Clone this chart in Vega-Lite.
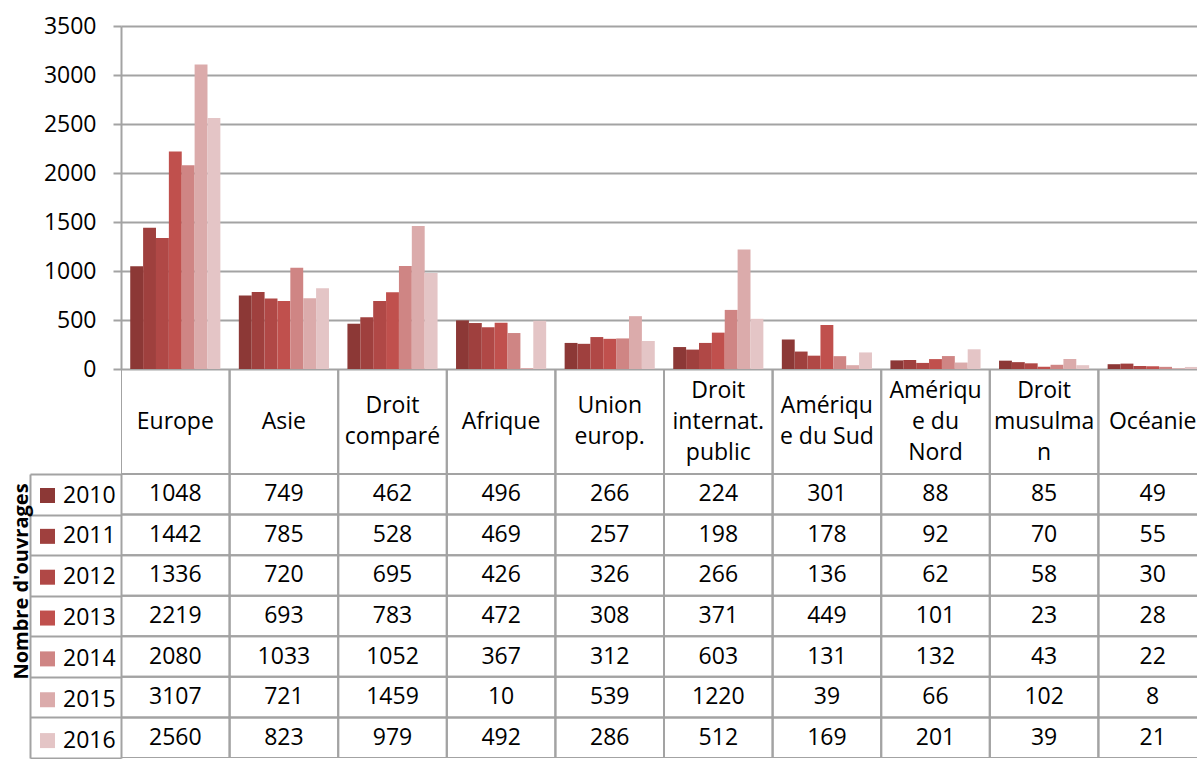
{
  "$schema": "https://vega.github.io/schema/vega-lite/v6.json",
  "bounds": "flush",
  "spacing": 0,
  "padding": {"left": 11, "top": 15, "right": 0, "bottom": 0},
  "background": "white",
  "config": {
    "view": {"stroke": null},
    "font": "Open Sans",
    "axis": {"labelFont": "Open Sans", "titleFont": "Open Sans", "labelColor": "black", "titleColor": "black"},
    "legend": {"labelFont": "Open Sans"}
  },
  "datasets": {
    "cats": [
      {"cat": "Europe", "label": "Europe"},
      {"cat": "Asie", "label": "Asie"},
      {"cat": "Droit comparé", "label": "Droit\ncomparé"},
      {"cat": "Afrique", "label": "Afrique"},
      {"cat": "Union europ.", "label": "Union\neurop."},
      {"cat": "Droit internat. public", "label": "Droit\ninternat.\npublic"},
      {"cat": "Amérique du Sud", "label": "Amériqu\ne du Sud"},
      {"cat": "Amérique du Nord", "label": "Amériqu\ne du\nNord"},
      {"cat": "Droit musulman", "label": "Droit\nmusulma\nn"},
      {"cat": "Océanie", "label": "Océanie"}
    ],
    "vals": [
      {"cat": "Europe", "year": "2010", "value": 1048},
      {"cat": "Europe", "year": "2011", "value": 1442},
      {"cat": "Europe", "year": "2012", "value": 1336},
      {"cat": "Europe", "year": "2013", "value": 2219},
      {"cat": "Europe", "year": "2014", "value": 2080},
      {"cat": "Europe", "year": "2015", "value": 3107},
      {"cat": "Europe", "year": "2016", "value": 2560},
      {"cat": "Asie", "year": "2010", "value": 749},
      {"cat": "Asie", "year": "2011", "value": 785},
      {"cat": "Asie", "year": "2012", "value": 720},
      {"cat": "Asie", "year": "2013", "value": 693},
      {"cat": "Asie", "year": "2014", "value": 1033},
      {"cat": "Asie", "year": "2015", "value": 721},
      {"cat": "Asie", "year": "2016", "value": 823},
      {"cat": "Droit comparé", "year": "2010", "value": 462},
      {"cat": "Droit comparé", "year": "2011", "value": 528},
      {"cat": "Droit comparé", "year": "2012", "value": 695},
      {"cat": "Droit comparé", "year": "2013", "value": 783},
      {"cat": "Droit comparé", "year": "2014", "value": 1052},
      {"cat": "Droit comparé", "year": "2015", "value": 1459},
      {"cat": "Droit comparé", "year": "2016", "value": 979},
      {"cat": "Afrique", "year": "2010", "value": 496},
      {"cat": "Afrique", "year": "2011", "value": 469},
      {"cat": "Afrique", "year": "2012", "value": 426},
      {"cat": "Afrique", "year": "2013", "value": 472},
      {"cat": "Afrique", "year": "2014", "value": 367},
      {"cat": "Afrique", "year": "2015", "value": 10},
      {"cat": "Afrique", "year": "2016", "value": 492},
      {"cat": "Union europ.", "year": "2010", "value": 266},
      {"cat": "Union europ.", "year": "2011", "value": 257},
      {"cat": "Union europ.", "year": "2012", "value": 326},
      {"cat": "Union europ.", "year": "2013", "value": 308},
      {"cat": "Union europ.", "year": "2014", "value": 312},
      {"cat": "Union europ.", "year": "2015", "value": 539},
      {"cat": "Union europ.", "year": "2016", "value": 286},
      {"cat": "Droit internat. public", "year": "2010", "value": 224},
      {"cat": "Droit internat. public", "year": "2011", "value": 198},
      {"cat": "Droit internat. public", "year": "2012", "value": 266},
      {"cat": "Droit internat. public", "year": "2013", "value": 371},
      {"cat": "Droit internat. public", "year": "2014", "value": 603},
      {"cat": "Droit internat. public", "year": "2015", "value": 1220},
      {"cat": "Droit internat. public", "year": "2016", "value": 512},
      {"cat": "Amérique du Sud", "year": "2010", "value": 301},
      {"cat": "Amérique du Sud", "year": "2011", "value": 178},
      {"cat": "Amérique du Sud", "year": "2012", "value": 136},
      {"cat": "Amérique du Sud", "year": "2013", "value": 449},
      {"cat": "Amérique du Sud", "year": "2014", "value": 131},
      {"cat": "Amérique du Sud", "year": "2015", "value": 39},
      {"cat": "Amérique du Sud", "year": "2016", "value": 169},
      {"cat": "Amérique du Nord", "year": "2010", "value": 88},
      {"cat": "Amérique du Nord", "year": "2011", "value": 92},
      {"cat": "Amérique du Nord", "year": "2012", "value": 62},
      {"cat": "Amérique du Nord", "year": "2013", "value": 101},
      {"cat": "Amérique du Nord", "year": "2014", "value": 132},
      {"cat": "Amérique du Nord", "year": "2015", "value": 66},
      {"cat": "Amérique du Nord", "year": "2016", "value": 201},
      {"cat": "Droit musulman", "year": "2010", "value": 85},
      {"cat": "Droit musulman", "year": "2011", "value": 70},
      {"cat": "Droit musulman", "year": "2012", "value": 58},
      {"cat": "Droit musulman", "year": "2013", "value": 23},
      {"cat": "Droit musulman", "year": "2014", "value": 43},
      {"cat": "Droit musulman", "year": "2015", "value": 102},
      {"cat": "Droit musulman", "year": "2016", "value": 39},
      {"cat": "Océanie", "year": "2010", "value": 49},
      {"cat": "Océanie", "year": "2011", "value": 55},
      {"cat": "Océanie", "year": "2012", "value": 30},
      {"cat": "Océanie", "year": "2013", "value": 28},
      {"cat": "Océanie", "year": "2014", "value": 22},
      {"cat": "Océanie", "year": "2015", "value": 8},
      {"cat": "Océanie", "year": "2016", "value": 21}
    ]
  },
  "vconcat": [
    {
      "width": 1076,
      "height": 343,
      "data": {"name": "vals"},
      "mark": {"type": "bar", "clip": true},
      "encoding": {
        "x": {
          "field": "cat", "type": "nominal",
          "sort": ["Europe", "Asie", "Droit comparé", "Afrique", "Union europ.", "Droit internat. public", "Amérique du Sud", "Amérique du Nord", "Droit musulman", "Océanie"],
          "scale": {"range": [0, 1086], "paddingInner": 0.17, "paddingOuter": 0.085},
          "axis": null
        },
        "xOffset": {"field": "year", "type": "nominal"},
        "y": {
          "field": "value", "type": "quantitative",
          "scale": {"domain": [0, 3500], "nice": false},
          "axis": {
            "values": [0, 500, 1000, 1500, 2000, 2500, 3000, 3500],
            "format": "d",
            "title": null,
            "grid": true, "gridColor": "#A3A3A3", "gridWidth": 2,
            "domainColor": "#A3A3A3", "domainWidth": 2,
            "tickColor": "#A3A3A3", "tickWidth": 2, "tickSize": 8,
            "labelFontSize": 23, "labelPadding": 17
          }
        },
        "color": {
          "field": "year", "type": "nominal",
          "scale": {"range": ["#8C3836", "#9F403E", "#B04846", "#C0504D", "#CF8584", "#DBABAB", "#E4C5C6"]},
          "legend": {
            "orient": "none", "legendX": -85, "legendY": 458,
            "title": null, "padding": 0,
            "symbolType": "square", "symbolSize": 225, "symbolStrokeWidth": 0, "symbolOpacity": 1,
            "labelFontSize": 23, "labelColor": "black", "labelOffset": 4,
            "rowPadding": 16.85
          }
        }
      }
    },
    {
      "width": 1076,
      "height": 105,
      "data": {"name": "cats"},
      "encoding": {
        "x": {
          "field": "cat", "type": "nominal",
          "sort": ["Europe", "Asie", "Droit comparé", "Afrique", "Union europ.", "Droit internat. public", "Amérique du Sud", "Amérique du Nord", "Droit musulman", "Océanie"],
          "scale": {"range": [0, 1086], "paddingInner": 0, "paddingOuter": 0},
          "axis": null
        }
      },
      "layer": [
        {"mark": {"type": "rect", "fillOpacity": 0, "stroke": "#A3A3A3", "strokeWidth": 2, "clip": true}},
        {
          "transform": [{"filter": "length(split(datum.label, '\\n')) == 1"}],
          "mark": {"type": "text", "fontSize": 23, "lineBreak": "\n", "lineHeight": 31, "baseline": "middle", "color": "black", "clip": true},
          "encoding": {"text": {"field": "label"}}
        },
        {
          "transform": [{"filter": "length(split(datum.label, '\\n')) == 2"}],
          "mark": {"type": "text", "fontSize": 23, "lineBreak": "\n", "lineHeight": 31, "baseline": "middle", "dy": -15.5, "color": "black", "clip": true},
          "encoding": {"text": {"field": "label"}}
        },
        {
          "transform": [{"filter": "length(split(datum.label, '\\n')) == 3"}],
          "mark": {"type": "text", "fontSize": 23, "lineBreak": "\n", "lineHeight": 31, "baseline": "middle", "dy": -31, "color": "black", "clip": true},
          "encoding": {"text": {"field": "label"}}
        }
      ]
    },
    {
      "width": 1076,
      "height": 284,
      "data": {"name": "vals"},
      "encoding": {
        "x": {
          "field": "cat", "type": "nominal",
          "sort": ["Europe", "Asie", "Droit comparé", "Afrique", "Union europ.", "Droit internat. public", "Amérique du Sud", "Amérique du Nord", "Droit musulman", "Océanie"],
          "scale": {"range": [0, 1086], "paddingInner": 0, "paddingOuter": 0},
          "axis": null
        }
      },
      "layer": [
        {
          "mark": {"type": "rect", "fillOpacity": 0, "stroke": "#A3A3A3", "strokeWidth": 2, "clip": true},
          "encoding": {
            "y": {
              "field": "year", "type": "nominal",
              "scale": {"paddingInner": 0, "paddingOuter": 0},
              "axis": {
                "orient": "left",
                "title": "Nombre d'ouvrages", "titleFontSize": 20, "titleFontWeight": "bold",
                "titlePadding": -2, "titleY": 107, "titleAlign": "center",
                "labels": false, "tickSize": 91, "tickBand": "extent",
                "tickColor": "#A3A3A3", "tickWidth": 2,
                "domainColor": "#A3A3A3", "domainWidth": 2
              }
            }
          }
        },
        {
          "mark": {"type": "text", "fontSize": 23, "color": "black", "clip": true},
          "encoding": {
            "y": {
              "field": "year", "type": "nominal",
              "scale": {"paddingInner": 0, "paddingOuter": 0},
              "axis": {
                "orient": "left", "offset": 91, "title": null,
                "labels": false, "ticks": false,
                "domainColor": "#A3A3A3", "domainWidth": 2
              }
            },
            "text": {"field": "value", "type": "quantitative"}
          }
        }
      ],
      "resolve": {"scale": {"y": "independent"}}
    }
  ]
}
